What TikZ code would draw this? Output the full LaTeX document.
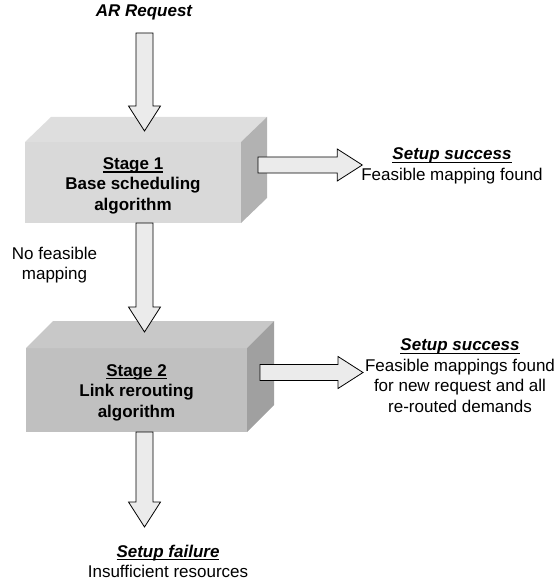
\documentclass[tikz,border=0pt]{standalone}
\usepackage{fontspec}
\setmainfont{Liberation Sans}
\usetikzlibrary{calc,positioning}

\definecolor{arrowgray}{HTML}{EBEBEB}
\definecolor{front1}{HTML}{D9D9D9}
\definecolor{top1}{HTML}{DEDEDE}
\definecolor{side1}{HTML}{B2B2B2}
\definecolor{front2}{HTML}{C0C0C0}
\definecolor{top2}{HTML}{C8C8C8}
\definecolor{side2}{HTML}{A0A0A0}

% underline a little below the baseline
\newsavebox\ulbox
\newcommand\uln[1]{\sbox\ulbox{#1}\rlap{\vrule width\wd\ulbox height -2pt depth 3.1pt}\usebox\ulbox}

\tikzset{
  txt/.style={font=\fontsize{17}{20.5}\selectfont, align=center, inner sep=0pt, outer sep=0pt},
  btxt/.style={txt, font=\fontsize{17}{20.5}\selectfont\bfseries},
  ittxt/.style={txt, font=\fontsize{17}{20.5}\selectfont\bfseries\itshape},
  % block arrows, drawn as one outline
  varrow/.style={draw=black, line width=0.8pt, fill=arrowgray,
    to path={let \p1=(\tikztostart), \p2=(\tikztotarget) in
      (\x1-8.5pt,\y1) -- (\x1-8.5pt,\y2+25pt) -- (\x1-16pt,\y2+25pt) -- (\x1,\y2)
      -- (\x1+16pt,\y2+25pt) -- (\x1+8.5pt,\y2+25pt) -- (\x1+8.5pt,\y1) -- cycle}},
  harrow/.style={draw=black, line width=0.8pt, fill=arrowgray,
    to path={let \p1=(\tikztostart), \p2=(\tikztotarget) in
      (\x1,\y1+8pt) -- (\x2-25pt,\y1+8pt) -- (\x2-25pt,\y1+16pt) -- (\x2,\y1)
      -- (\x2-25pt,\y1-16pt) -- (\x2-25pt,\y1-8pt) -- (\x1,\y1-8pt) -- cycle}}
}

\begin{document}
\begin{tikzpicture}[x=1pt,y=-1pt]
  \useasboundingbox (0,0) rectangle (559,588);

  % stage 1 box
  \node[btxt, fill=front1, minimum width=216pt, minimum height=81pt] (stage1) at (133,182.5)
    {\rule{0pt}{18.6pt}\uln{Stage 1}\\Base scheduling\\algorithm};
  \fill[top1] (stage1.north west) -- (stage1.north east) -- ++(26,-25)
    -- ([shift={(26,-25)}]stage1.north west) -- cycle;
  \fill[side1] (stage1.north east) -- (stage1.south east) -- ++(26,-25)
    -- ([shift={(26,-25)}]stage1.north east) -- cycle;

  % stage 2 box
  \node[btxt, fill=front2, minimum width=221pt, minimum height=84pt,
        below=125pt of stage1, xshift=3.5pt] (stage2)
    {\rule{0pt}{16.6pt}\uln{Stage 2}\\Link rerouting\\algorithm};
  \fill[top2] (stage2.north west) -- (stage2.north east) -- ++(27,-27)
    -- ([shift={(27,-27)}]stage2.north west) -- cycle;
  \fill[side2] (stage2.north east) -- (stage2.south east) -- ++(27,-27)
    -- ([shift={(27,-27)}]stage2.north east) -- cycle;

  % texts
  \node[ittxt, anchor=base] (request) at (144,16.5) {AR Request};
  \node[txt, anchor=north] (nofeas) at (54.5,246.8) {No feasible\\mapping};
  \node[txt, anchor=north] (ok1) at (452,148)
    {\uln{\textbf{\textit{Setup success}}}\\Feasible mapping found};
  \node[txt, anchor=north] (ok2) at (460,339)
    {\uln{\textbf{\textit{Setup success}}}\\Feasible mappings found\\for new request and all\\re-routed demands};
  \node[txt, anchor=north] (fail) at (168,545)
    {\uln{\textbf{\textit{Setup failure}}}\\Insufficient resources};

  % arrows
  \coordinate (in1) at (144.5,33);
  \draw[varrow] (in1) to ([yshift=11pt]stage1.north);
  \draw[varrow] ([xshift=11.5pt]stage1.south) to ([yshift=16pt]stage2.north);
  \draw[varrow] ([xshift=8pt]stage2.south) to ([yshift=18pt]fail.north);
  \draw[harrow] ([shift={(17,-17.5)}]stage1.east) to ([xshift=1pt]ok1.west);
  \draw[harrow] ([shift={(13,-17.5)}]stage2.east) to ([xshift=-2pt]ok2.west);
\end{tikzpicture}
\end{document}
